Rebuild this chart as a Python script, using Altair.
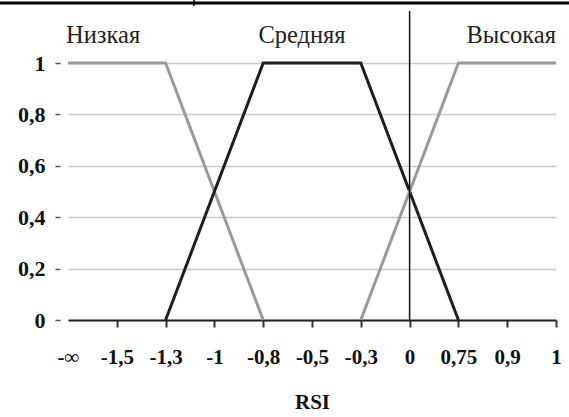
import altair as alt
import pandas as pd

categories = ["-∞", "-1,5", "-1,3", "-1", "-0,8", "-0,5", "-0,3", "0", "0,75", "0,9", "1"]

low_x = ["-∞", "-1,3", "-0,8"]
low_y = [1, 1, 0]
mid_x = ["-1,3", "-0,8", "-0,3", "0,75"]
mid_y = [0, 1, 1, 0]
high_x = ["-0,3", "0,75", "1"]
high_y = [0, 1, 1]

series_names = ["Низкая", "Средняя", "Высокая"]
series_colors = ["#9a9a9a", "#1e1e1e", "#9a9a9a"]
label_anchor = ["-∞", "-0,5", "1"]
y_ticks = [0, 0.2, 0.4, 0.6, 0.8, 1]

rows = []
for name, xs, ys in zip(series_names, [low_x, mid_x, high_x], [low_y, mid_y, high_y]):
    for i, (xc, yv) in enumerate(zip(xs, ys)):
        rows.append({"series": name, "pos": categories.index(xc), "y": yv, "order": i})
df = pd.DataFrame(rows)

lab_df = pd.DataFrame({"series": series_names,
                       "pos": [categories.index(c) for c in label_anchor]})

label_arr = "[" + ",".join("'" + c + "'" for c in categories) + "]"

xscale = alt.Scale(domain=[0, len(categories) - 1], nice=False, zero=False)
yscale = alt.Scale(domain=[0, 1], nice=False)

serif = "Liberation Serif"

base = alt.Chart(df)

lines = base.mark_line(strokeWidth=3, clip=False).encode(
    x=alt.X("pos:Q", scale=xscale,
            axis=alt.Axis(values=list(range(len(categories))),
                          labelExpr=label_arr + "[datum.value]",
                          title="RSI", grid=False,
                          domainColor="#222", domainWidth=2,
                          tickColor={"condition": {"test": "datum.value === 0", "value": "transparent"}, "value": "#333"},
                          tickSize=7, tickWidth=2,
                          labelFont=serif, labelFontSize=21, labelFontWeight="bold",
                          labelColor="#111", labelPadding=19, labelFlush=False,
                          titleFont=serif, titleFontSize=21, titleFontWeight="bold",
                          titleColor="#111", titlePadding=24)),
    y=alt.Y("y:Q", scale=yscale,
            axis=alt.Axis(values=y_ticks,
                          labelExpr="replace(format(datum.value, '~g'), '.', ',')",
                          title=None, domain=False, offset=8,
                          gridColor="#c8c8c8", gridWidth=1.5,
                          tickColor="#555", tickSize=5, tickWidth=1.5,
                          labelFont=serif, labelFontSize=22, labelFontWeight="bold",
                          labelColor="#111", labelPadding=10)),
    color=alt.Color("series:N", scale=alt.Scale(domain=series_names, range=series_colors), legend=None),
    detail="series:N",
    order="order:Q",
)

zero_line = alt.Chart(pd.DataFrame({"pos": [categories.index("0")]})).mark_rule(
    color="#111", strokeWidth=1.5).encode(
    x=alt.X("pos:Q", scale=xscale),
    y=alt.value(-52),
    y2=alt.value(257),
)

labels_left = alt.Chart(lab_df.iloc[[0]]).mark_text(
    align="left", font=serif, fontSize=24.5, color="#222", baseline="alphabetic", dx=-2).encode(
    x=alt.X("pos:Q", scale=xscale), y=alt.value(-20), text="series:N")
labels_mid = alt.Chart(lab_df.iloc[[1]]).mark_text(
    align="center", font=serif, fontSize=24.5, color="#222", baseline="alphabetic", dx=-10).encode(
    x=alt.X("pos:Q", scale=xscale), y=alt.value(-20), text="series:N")
labels_right = alt.Chart(lab_df.iloc[[2]]).mark_text(
    align="right", font=serif, fontSize=24.5, color="#222", baseline="alphabetic").encode(
    x=alt.X("pos:Q", scale=xscale), y=alt.value(-20), text="series:N")

top_border = alt.Chart(lab_df.iloc[[0]]).mark_rule(color="#000", strokeWidth=3).encode(
    x=alt.value(-68), x2=alt.value(501), y=alt.value(-60))
top_tick = alt.Chart(lab_df.iloc[[0]]).mark_rule(color="#000", strokeWidth=1.5).encode(
    x=alt.value(126), y=alt.value(-63), y2=alt.value(-57))

chart = alt.layer(top_border, top_tick, lines, zero_line, labels_left, labels_mid, labels_right).properties(
    width=488, height=257,
    padding={"left": 68, "top": 63, "right": 13, "bottom": 97},
    autosize=alt.AutoSizeParams(type="none"),
    background="#ffffff",
).configure_view(stroke=None)

chart.save("out.html", embed_options={"renderer": "svg", "actions": False})
